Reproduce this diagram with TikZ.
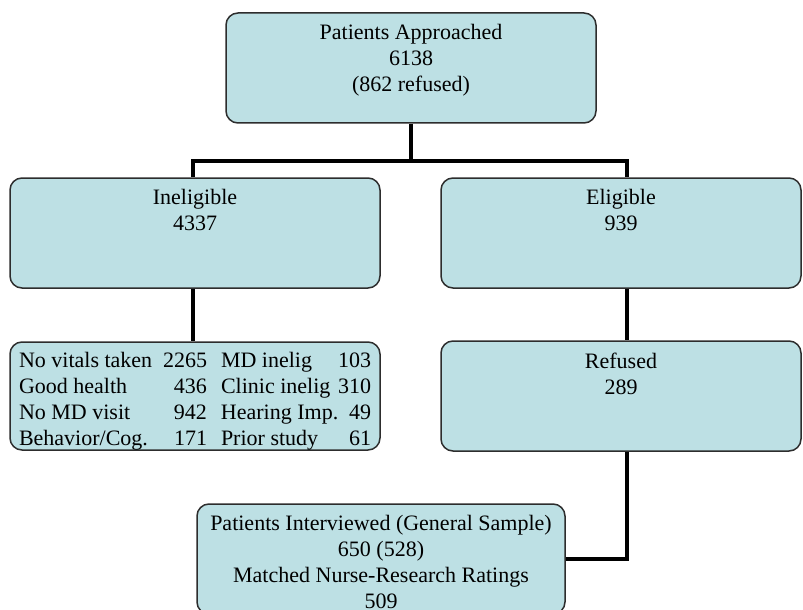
\documentclass[tikz,border=0pt]{standalone}
\usepackage{fontspec}
\setmainfont{Liberation Serif}
\usetikzlibrary{positioning, calc}
\definecolor{boxfill}{RGB}{189,224,228}
\definecolor{edge}{RGB}{45,45,45}
\newcommand\whyrow[4]{\makebox[94pt]{#1\hfill#2}\hspace{7pt}\makebox[75pt]{#3\hfill#4}}

\begin{document}
\begin{tikzpicture}[x=0.5pt, y=-0.5pt,
    box/.style={draw=edge, fill=boxfill, line width=0.75pt, rounded corners=6pt,
      minimum width=185pt, minimum height=55pt, inner sep=0pt},
    txt/.style={anchor=north, yshift=-6pt, align=center, inner sep=0pt,
      font=\fontsize{11}{13}\selectfont},
    link/.style={line width=2pt, black}]
  \useasboundingbox (0,0) rectangle (803,610);
  \clip (0,0) rectangle (803,610);
  % boxes
  \node[box, label={[txt]north:{Patients Approached\\6138\\(862 refused)}}] (top) at (411,68) {};
  \node[box, label={[txt]north:{Ineligible\\4337}}] (inel) at (195,233) {};
  \node[box, minimum width=180pt, label={[txt]north:{Eligible\\939}}] (eli) at (621,233) {};
  \node[box, minimum height=54pt, label={[txt, yshift=0.5pt]north:{%
      \whyrow{No vitals taken}{2265}{MD inelig}{103}\\
      \whyrow{Good health}{436}{Clinic inelig}{310}\\
      \whyrow{No MD visit}{942}{Hearing Imp.}{49}\\
      \whyrow{Behavior/Cog.}{171}{Prior study}{61}}}] (why) at (195,396) {};
  \node[box, minimum width=180pt, label={[txt]north:{Refused\\289}}] (refu) at (621,396) {};
  \node[box, minimum width=184pt, label={[txt]north:{Patients Interviewed (General Sample)\\650 (528)\\Matched Nurse-Research Ratings\\509}}] (bot) at (381,559) {};
  % connectors
  \coordinate (bar) at (411,161);
  \draw[link] (top) -- (bar);
  \draw[link] ([xshift=-1pt]inel.north) |- (bar) -| ([xshift=3pt]eli.north);
  \draw[link] ([xshift=-1pt]inel.south) -- ([xshift=-1pt]why.north);
  \draw[link] ([xshift=3pt]eli.south) -- ([xshift=3pt]refu.north);
  \draw[link] ([xshift=3pt]refu.south) |- (bot.east);
\end{tikzpicture}
\end{document}
